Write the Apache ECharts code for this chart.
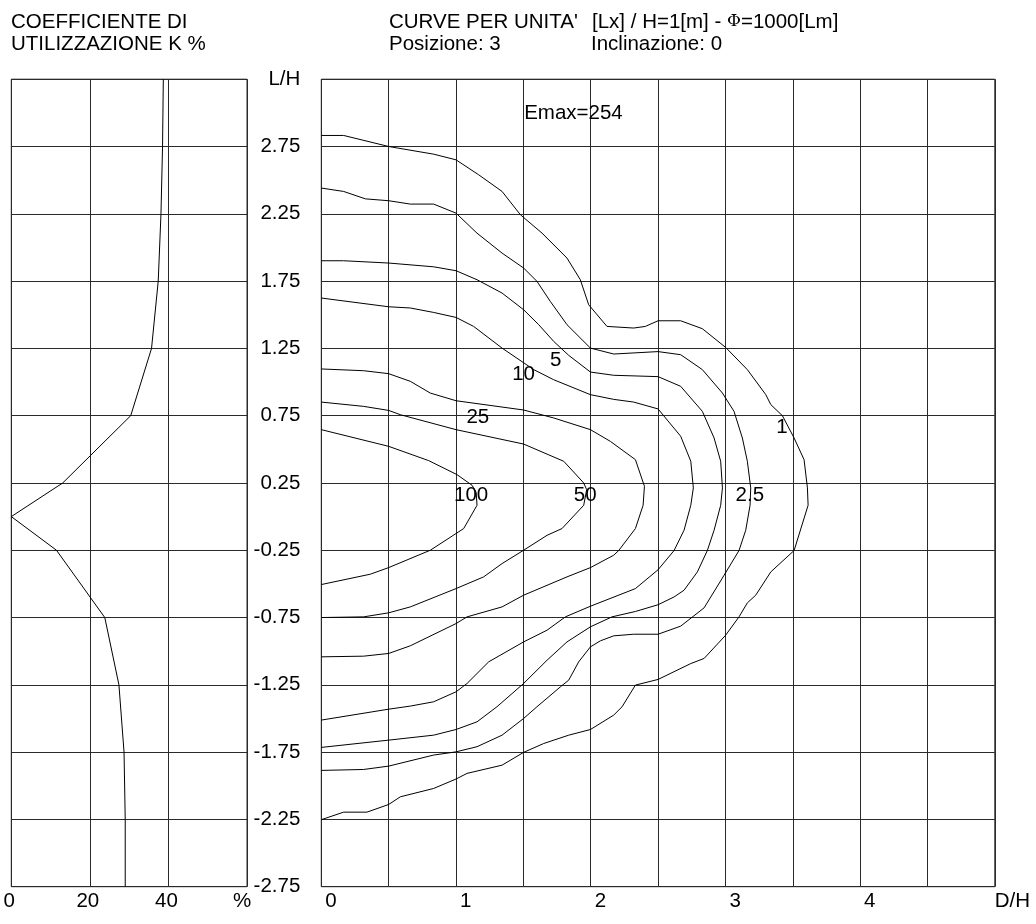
<!DOCTYPE html>
<html>
<head>
<meta charset="utf-8">
<title>Curve isolux</title>
<script src="https://cdn.jsdelivr.net/npm/echarts@6/dist/echarts.min.js"></script>
<style>
  html, body { margin: 0; padding: 0; background: #fff; }
  #chart { width: 1036px; height: 924px; }
</style>
</head>
<body>
<div id="chart"></div>
<script>
// Utilization coefficient K% as a function of L/H
const kCurve = [
  [38.7, 3.25], [38.5, 2.75], [38.1, 2.25], [37.4, 1.75], [35.7, 1.25],
  [30.4, 0.75], [13.1, 0.25], [0, 0], [11.5, -0.25], [23.8, -0.75],
  [27.4, -1.25], [28.7, -1.75], [29.0, -2.25], [29.0, -2.75]
];

// Isolux levels [lx] and their curves, points as [D/H, L/H]
const levels = [1, 2.5, 5, 10, 25, 50, 100];

const iso1 = [
  [0, 2.832], [0.166, 2.832], [0.5, 2.75], [0.834, 2.693], [1.0, 2.651],
  [1.168, 2.540], [1.342, 2.416], [1.478, 2.243], [1.639, 2.106], [1.824, 1.921],
  [1.923, 1.760], [1.985, 1.574], [2.121, 1.413], [2.319, 1.401], [2.406, 1.413],
  [2.5, 1.455], [2.668, 1.455], [2.829, 1.396], [3.002, 1.257], [3.163, 1.092],
  [3.300, 0.906], [3.337, 0.832], [3.423, 0.750], [3.510, 0.584], [3.584, 0.423],
  [3.609, 0.213], [3.614, 0.084], [3.510, -0.252], [3.337, -0.411], [3.225, -0.584],
  [3.163, -0.641], [3.101, -0.745], [3.002, -0.881], [2.842, -1.054], [2.743, -1.092],
  [2.5, -1.210], [2.332, -1.252], [2.233, -1.413], [2.171, -1.475], [1.998, -1.582],
  [1.837, -1.624], [1.651, -1.686], [1.502, -1.752], [1.342, -1.847], [1.082, -1.908],
  [1.0, -1.950], [0.834, -2.020], [0.587, -2.082], [0.5, -2.139], [0.339, -2.196],
  [0.166, -2.196], [0, -2.252]
];

const iso2_5 = [
  [0, 2.441], [0.166, 2.416], [0.327, 2.361], [0.5, 2.347], [0.661, 2.322],
  [0.834, 2.322], [1.0, 2.255], [1.156, 2.106], [1.342, 1.958], [1.502, 1.847],
  [1.601, 1.748], [1.700, 1.599], [1.824, 1.426], [1.998, 1.252], [2.171, 1.208],
  [2.5, 1.226], [2.668, 1.203], [2.829, 1.092], [2.978, 0.918], [3.064, 0.782],
  [3.126, 0.584], [3.163, 0.411], [3.188, 0.213], [3.183, 0.084], [3.151, -0.101],
  [3.101, -0.252], [2.990, -0.436], [2.842, -0.678], [2.668, -0.814], [2.5, -0.874],
  [2.319, -0.874], [2.171, -0.886], [2.072, -0.923], [1.998, -0.968], [1.911, -1.079],
  [1.837, -1.215], [1.775, -1.265], [1.601, -1.413], [1.502, -1.500], [1.342, -1.624],
  [1.156, -1.710], [1.0, -1.748], [0.834, -1.772], [0.5, -1.854], [0.314, -1.879],
  [0, -1.886]
];

const iso5 = [
  [0, 1.901], [0.166, 1.901], [0.5, 1.884], [0.834, 1.856], [1.0, 1.827],
  [1.156, 1.760], [1.342, 1.661], [1.502, 1.537], [1.614, 1.426], [1.725, 1.302],
  [1.837, 1.198], [1.998, 1.074], [2.171, 1.050], [2.5, 1.040], [2.668, 0.968],
  [2.829, 0.782], [2.916, 0.584], [2.965, 0.411], [2.978, 0.213], [2.965, 0.084],
  [2.916, -0.101], [2.866, -0.252], [2.792, -0.411], [2.693, -0.547], [2.619, -0.597],
  [2.5, -0.655], [2.332, -0.705], [2.158, -0.745], [1.998, -0.819], [1.824, -0.931],
  [1.676, -1.067], [1.502, -1.240], [1.304, -1.413], [1.156, -1.525], [1.0, -1.582],
  [0.834, -1.624], [0.5, -1.661], [0, -1.715]
];

const iso10 = [
  [0, 1.624], [0.5, 1.559], [0.661, 1.550], [0.834, 1.517], [1.0, 1.480],
  [1.131, 1.413], [1.342, 1.252], [1.577, 1.092], [1.725, 1.017], [1.998, 0.906],
  [2.171, 0.871], [2.319, 0.851], [2.5, 0.800], [2.668, 0.597], [2.743, 0.411],
  [2.762, 0.213], [2.743, 0.084], [2.693, -0.101], [2.619, -0.252], [2.5, -0.395],
  [2.332, -0.535], [1.998, -0.666], [1.812, -0.745], [1.676, -0.844], [1.502, -0.931],
  [1.243, -1.079], [1.082, -1.240], [1.0, -1.302], [0.834, -1.376], [0.661, -1.408],
  [0.5, -1.431], [0, -1.512]
];

const iso25 = [
  [0, 1.097], [0.314, 1.084], [0.5, 1.062], [0.661, 1.005], [0.809, 0.918],
  [1.0, 0.861], [1.502, 0.792], [1.725, 0.733], [1.998, 0.646], [2.146, 0.559],
  [2.332, 0.423], [2.399, 0.225], [2.389, 0.084], [2.332, -0.089], [2.208, -0.252],
  [2.171, -0.287], [1.998, -0.379], [1.824, -0.448], [1.502, -0.584], [1.342, -0.671],
  [1.082, -0.745], [1.0, -0.795], [0.661, -0.960], [0.5, -1.017], [0.314, -1.037],
  [0, -1.042]
];

const iso50 = [
  [0, 0.851], [0.314, 0.819], [0.5, 0.789], [0.587, 0.757], [1.0, 0.646],
  [1.502, 0.539], [1.800, 0.411], [1.948, 0.250], [1.970, 0.200], [1.948, 0.084],
  [1.787, -0.089], [1.676, -0.139], [1.502, -0.250], [1.342, -0.349], [1.205, -0.448],
  [1.0, -0.535], [0.661, -0.671], [0.5, -0.715], [0.314, -0.745], [0, -0.750]
];

const iso100 = [
  [0, 0.646], [0.5, 0.522], [0.797, 0.416], [1.007, 0.312], [1.119, 0.233],
  [1.150, 0.180], [1.156, 0.084], [1.057, -0.089], [1.0, -0.126], [0.809, -0.25],
  [0.5, -0.379], [0.364, -0.428], [0, -0.505]
];

const isoCurves = [iso1, iso2_5, iso5, iso10, iso25, iso50, iso100];

// Where each level's value is written along its curve [D/H, L/H]
const levelLabelAt = [
  [3.420, 0.666], [3.181, 0.161], [1.741, 1.161], [1.502, 1.060],
  [1.162, 0.738], [1.959, 0.161], [1.112, 0.161]
];

const eMax = 254;
const eMaxAt = [1.506, 2.995];

// Axis ticks
const kTicks = [0, 20, 40, 60];
const dTicks = [0, 1, 2, 3, 4, 5];
const lTicks = [-2.75, -2.25, -1.75, -1.25, -0.75, -0.25, 0.25, 0.75, 1.25, 1.75, 2.25, 2.75, 3.25];

const FONT = '"Liberation Sans", Arial, Helvetica, sans-serif';
const FS = 20.5;
const GRID_LINE = '#2a2a2a';

const chart = echarts.init(document.getElementById('chart'), null, { renderer: 'canvas' });

const isInt = v => Math.abs(v - Math.round(v)) < 1e-9;

const splitLine = { show: true, lineStyle: { color: GRID_LINE, width: 1 } };

const option = {
  backgroundColor: '#fff',
  animation: false,
  grid: [
    { left: 11.3, top: 79.2, width: 235.7, height: 807.5, show: true, borderColor: GRID_LINE, borderWidth: 1, containLabel: false, outerBoundsMode: 'none' },
    { left: 321.3, top: 79.2, width: 673.5, height: 807.5, show: true, borderColor: GRID_LINE, borderWidth: 1, containLabel: false, outerBoundsMode: 'none' }
  ],
  xAxis: [
    {
      gridIndex: 0, type: 'value', min: kTicks[0], max: kTicks[kTicks.length - 1],
      interval: kTicks[1] - kTicks[0],
      axisLine: { show: false }, axisTick: { show: false }, splitLine,
      axisLabel: {
        show: true, interval: 0, showMinLabel: true, showMaxLabel: true, margin: 4,
        color: '#000', fontFamily: FONT, fontSize: FS,
        formatter: v => v === kTicks[kTicks.length - 1] ? '{p|%}' : '{n|' + v + '}',
        rich: {
          n: { fontFamily: FONT, fontSize: FS, color: '#000', padding: [0, 4, 0, 0] },
          p: { fontFamily: FONT, fontSize: FS, color: '#000', padding: [0, 10, 0, 0] }
        }
      }
    },
    {
      gridIndex: 1, type: 'value', min: dTicks[0], max: dTicks[dTicks.length - 1],
      interval: 0.5,
      axisLine: { show: false }, axisTick: { show: false }, splitLine,
      axisLabel: {
        show: true, interval: 0, showMinLabel: true, showMaxLabel: true, margin: 4,
        align: 'left', color: '#000', fontFamily: FONT, fontSize: FS,
        formatter: v => {
          if (!isInt(v) || dTicks.indexOf(Math.round(v)) < 0) return '';
          return Math.round(v) === dTicks[dTicks.length - 1] ? '{u|D/H}' : '{d|' + Math.round(v) + '}';
        },
        rich: {
          d: { fontFamily: FONT, fontSize: FS, color: '#000', padding: [0, 0, 0, 4] },
          u: { fontFamily: FONT, fontSize: FS, color: '#000' }
        }
      }
    }
  ],
  yAxis: [
    {
      gridIndex: 0, type: 'value', min: lTicks[0], max: lTicks[lTicks.length - 1], interval: 0.5,
      axisLine: { show: false }, axisTick: { show: false }, axisLabel: { show: false }, splitLine
    },
    {
      gridIndex: 1, type: 'value', min: lTicks[0], max: lTicks[lTicks.length - 1], interval: 0.5,
      axisLine: { show: false }, axisTick: { show: false }, splitLine,
      axisLabel: {
        show: true, showMinLabel: true, showMaxLabel: true, interval: 0, margin: 21,
        color: '#000', fontFamily: FONT, fontSize: FS,
        formatter: v => Math.abs(v - lTicks[lTicks.length - 1]) < 1e-9 ? 'L/H' : v.toFixed(2)
      }
    }
  ],
  graphic: [
    { type: 'text', x: 11, y: 22, style: { text: 'COEFFICIENTE DI', font: FS + 'px ' + FONT, fill: '#000', verticalAlign: 'middle' } },
    { type: 'text', x: 11, y: 44, style: { text: 'UTILIZZAZIONE K %', font: FS + 'px ' + FONT, fill: '#000', verticalAlign: 'middle' } },
    { type: 'text', x: 389, y: 22, style: { text: "CURVE PER UNITA'", font: FS + 'px ' + FONT, fill: '#000', verticalAlign: 'middle' } },
    {
      type: 'text', x: 592, y: 22,
      style: {
        text: '{a|[Lx] / H=1[m] - }{f|\u03A6}{a|=1000[Lm]}',
        verticalAlign: 'middle',
        rich: {
          a: { fontFamily: FONT, fontSize: FS, fill: '#000', color: '#000' },
          f: { fontFamily: '"DejaVu Serif", serif', fontSize: 17, fill: '#000', color: '#000' }
        }
      }
    },
    { type: 'text', x: 389, y: 44, style: { text: 'Posizione: 3', font: FS + 'px ' + FONT, fill: '#000', verticalAlign: 'middle' } },
    { type: 'text', x: 591, y: 44, style: { text: 'Inclinazione: 0', font: FS + 'px ' + FONT, fill: '#000', verticalAlign: 'middle' } }
  ],
  series: [
    {
      type: 'line', xAxisIndex: 0, yAxisIndex: 0, data: kCurve,
      showSymbol: false, symbol: 'none', silent: true,
      lineStyle: { color: '#000', width: 1 }
    },
    ...isoCurves.map((pts, i) => ({
      name: String(levels[i]),
      type: 'line', xAxisIndex: 1, yAxisIndex: 1, data: pts,
      showSymbol: false, symbol: 'none', silent: true,
      lineStyle: { color: '#000', width: 1 }
    })),
    {
      type: 'scatter', xAxisIndex: 1, yAxisIndex: 1, symbolSize: 0, silent: true,
      itemStyle: { opacity: 1, color: '#000' },
      data: levels.map((lv, i) => ({ value: levelLabelAt[i], name: String(lv) })),
      label: {
        show: true, position: 'inside', formatter: p => p.name,
        color: '#000', opacity: 1, fontFamily: FONT, fontSize: FS
      }
    },
    {
      type: 'scatter', xAxisIndex: 1, yAxisIndex: 1, symbolSize: 0, silent: true,
      itemStyle: { opacity: 1, color: '#000' },
      data: [{ value: eMaxAt, name: 'Emax=' + eMax }],
      label: {
        show: true, position: 'right', distance: 0, formatter: p => p.name,
        color: '#000', opacity: 1, fontFamily: FONT, fontSize: FS
      }
    }
  ]
};

chart.setOption(option);
</script>
</body>
</html>
